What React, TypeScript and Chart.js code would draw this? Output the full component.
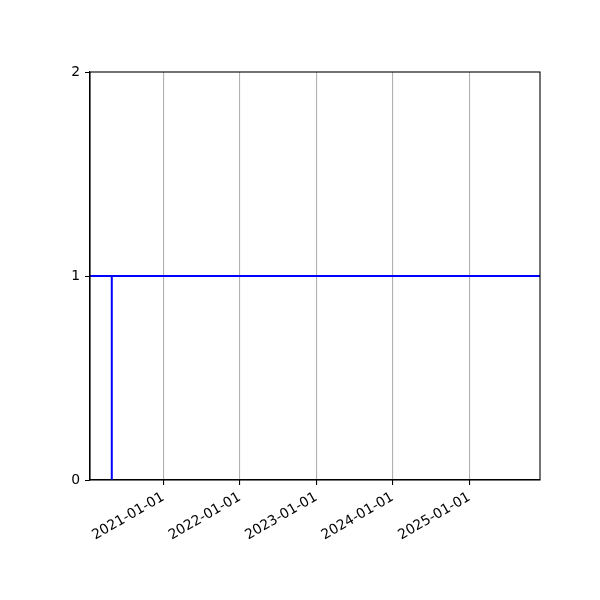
import React, { useEffect, useRef } from "react";
import { Chart, registerables } from "chart.js";

Chart.register(...registerables);

// Data
const tickLabels = ["2021-01-01", "2022-01-01", "2023-01-01", "2024-01-01", "2025-01-01"];
const xRange = ["2020-01-17", "2025-12-04"];
const stepDates = ["2020-04-30", "2020-04-30"];
const stepValues = [0, 1];
const levelValue = 1;
const yTicks = [0, 1, 2];

const toMs = (s: string) => {
  const [y, m, d] = s.split("-").map(Number);
  return Date.UTC(y, m - 1, d);
};

const framePlugin = {
  id: "frame",
  afterDatasetsDraw(chart: any) {
    const { ctx, chartArea } = chart;
    ctx.save();
    ctx.strokeStyle = "#000";
    ctx.lineWidth = 1.1;
    ctx.strokeRect(chartArea.left, chartArea.top, chartArea.right - chartArea.left, chartArea.bottom - chartArea.top);
    ctx.restore();
  },
};

export default function App() {
  const ref = useRef<HTMLCanvasElement | null>(null);
  useEffect(() => {
    if (!ref.current) return;
    const xMin = toMs(xRange[0]);
    const xMax = toMs(xRange[1]);
    const chart = new Chart(ref.current, {
      type: "line",
      data: {
        datasets: [
          {
            data: [
              { x: xMin, y: levelValue },
              { x: xMax, y: levelValue },
            ],
            borderColor: "#0000ff",
            borderWidth: 2,
            pointRadius: 0,
            tension: 0,
          },
          {
            data: stepDates.map((d, i) => ({ x: toMs(d), y: stepValues[i] })),
            borderColor: "#0000ff",
            borderWidth: 2,
            pointRadius: 0,
            tension: 0,
          },
        ],
      },
      options: {
        animation: false,
        responsive: false,
        maintainAspectRatio: false,
        layout: { padding: { left: 0, top: 72, right: 60, bottom: 0 } },
        plugins: { legend: { display: false }, tooltip: { enabled: false } },
        scales: {
          x: {
            type: "linear",
            min: xMin,
            max: xMax,
            afterBuildTicks: (scale: any) => {
              scale.ticks = tickLabels.map((t) => ({ value: toMs(t) }));
            },
            afterFit: (scale: any) => {
              scale.height = 120;
            },
            ticks: {
              autoSkip: false,
              maxRotation: 30,
              minRotation: 30,
              padding: 4,
              color: "#000",
              font: { family: "DejaVu Sans", size: 13.9 },
              callback: (v: any) => {
                const d = new Date(v);
                return d.toISOString().slice(0, 10);
              },
            },
            grid: { color: "#b0b0b0", lineWidth: 1.1, tickColor: "#000", tickLength: 5 },
            border: { color: "#000", width: 1.1 },
          },
          y: {
            type: "linear",
            min: 0,
            max: 2,
            afterBuildTicks: (scale: any) => {
              scale.ticks = yTicks.map((v) => ({ value: v }));
            },
            afterFit: (scale: any) => {
              scale.width = 90;
            },
            ticks: {
              padding: 5,
              color: "#000",
              font: { family: "DejaVu Sans", size: 13.9 },
            },
            grid: { color: "transparent", tickColor: "#000", tickLength: 5 },
            border: { color: "#000", width: 1.1 },
          },
        },
      },
      plugins: [framePlugin],
    });
    return () => chart.destroy();
  }, []);
  return (
    <div style={{ position: "fixed", left: 0, top: 0, width: 600, height: 600, background: "#fff" }}>
      <canvas ref={ref} width={600} height={600} style={{ width: 600, height: 600 }} />
    </div>
  );
}
